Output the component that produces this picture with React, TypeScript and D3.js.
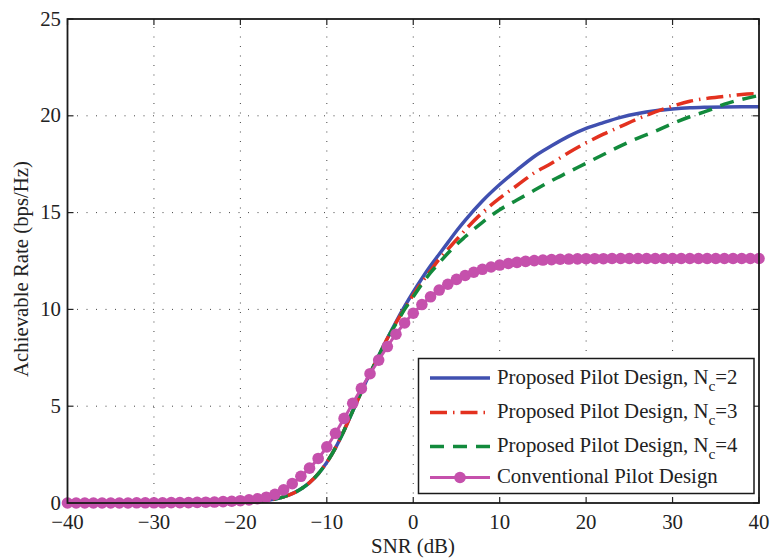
import React from "react";
import * as d3 from "d3";

const snrGrid = [-40, -30, -25, -20, -18, -16, -15, -14, -13, -12, -11, -10, -9, -8, -7, -6, -5, -4, -3, -2, -1, 0, 1, 2, 3, 4, 5, 6, 8, 10, 12, 14, 16, 18, 20, 22, 24, 26, 28, 30, 32, 34, 36, 38, 40];

const rateNc2 = [0, 0.003, 0.01, 0.03, 0.08, 0.2, 0.32, 0.48, 0.72, 1.05, 1.5, 2.1, 2.85, 3.75, 4.75, 5.75, 6.7, 7.6, 8.5, 9.35, 10.15, 10.9, 11.6, 12.25, 12.85, 13.45, 14.05, 14.6, 15.6, 16.45, 17.2, 17.9, 18.45, 18.95, 19.35, 19.65, 19.92, 20.12, 20.26, 20.35, 20.41, 20.44, 20.46, 20.47, 20.47];

const rateNc3 = [0, 0.003, 0.01, 0.03, 0.08, 0.2, 0.32, 0.48, 0.72, 1.05, 1.5, 2.1, 2.85, 3.75, 4.75, 5.75, 6.7, 7.6, 8.5, 9.3, 10.05, 10.75, 11.4, 12.0, 12.6, 13.1, 13.6, 14.1, 15.0, 15.75, 16.4, 17.05, 17.55, 18.1, 18.6, 19.05, 19.45, 19.85, 20.2, 20.5, 20.75, 20.9, 21.0, 21.1, 21.15];

const rateNc4 = [0, 0.003, 0.01, 0.03, 0.08, 0.2, 0.32, 0.48, 0.72, 1.05, 1.5, 2.1, 2.85, 3.75, 4.75, 5.75, 6.7, 7.6, 8.5, 9.25, 10.0, 10.65, 11.3, 11.9, 12.4, 12.9, 13.35, 13.75, 14.5, 15.15, 15.65, 16.15, 16.65, 17.1, 17.55, 18.0, 18.45, 18.85, 19.2, 19.6, 19.95, 20.25, 20.6, 20.85, 21.05];

const snrConv = d3.range(-40, 41, 1);
const rateConv = [
  0, 0, 0, 0, 0, 0, 0, 0, 0.01, 0.01, 0.01, 0.01, 0.02, 0.02, 0.02,
  0.03, 0.04, 0.05, 0.07, 0.09, 0.12, 0.16, 0.22, 0.3, 0.45, 0.68, 1.0, 1.38, 1.8, 2.3,
  2.9, 3.6, 4.37, 5.15, 5.92, 6.68, 7.38, 8.08, 8.72, 9.3, 9.8,
  10.25, 10.65, 11.0, 11.3, 11.55, 11.75, 11.92, 12.07, 12.19, 12.29, 12.37, 12.43, 12.48, 12.52, 12.55, 12.57, 12.59, 12.6, 12.61,
  12.62, 12.62, 12.62, 12.63, 12.63, 12.63, 12.63, 12.63, 12.63, 12.63, 12.63, 12.63, 12.63, 12.63, 12.63, 12.63, 12.63, 12.63, 12.63, 12.63, 12.63,
];

const xTicks = [-40, -30, -20, -10, 0, 10, 20, 30, 40];
const yTicks = [0, 5, 10, 15, 20, 25];

const legendLabels = ["Proposed Pilot Design, N", "Proposed Pilot Design, N", "Proposed Pilot Design, N", "Conventional Pilot Design"];
const legendSubs = ["c", "c", "c", ""];
const legendTails = ["=2", "=3", "=4", ""];

const W = 771, H = 559;
const L = 67.5, R = 759, T = 19, B = 503;
const FONT = "'Liberation Serif', 'Times New Roman', serif";
const FS = 20.8;

const BLUE = "#4050B0";
const RED = "#E3311F";
const GREEN = "#128A3C";
const MAG = "#C550AC";

export default function App() {
  const x = d3.scaleLinear().domain([-40, 40]).range([L, R]);
  const y = d3.scaleLinear().domain([0, 25]).range([B, T]);

  const mk = (ys: number[]) =>
    d3.line<number>().x((_, i) => x(snrGrid[i])).y((d) => y(d)).curve(d3.curveMonotoneX)(ys) || "";
  const convPath = d3.line<number>().x((_, i) => x(snrConv[i])).y((d) => y(d)).curve(d3.curveMonotoneX)(rateConv) || "";

  const series = [
    { d: mk(rateNc2), color: BLUE, dash: undefined as string | undefined, w: 3.5 },
    { d: mk(rateNc3), color: RED, dash: "17 6 1.5 6", w: 3.5 },
    { d: mk(rateNc4), color: GREEN, dash: "14 9", w: 3.5 },
  ];

  const legendRows = [378, 412.5, 446.5, 477.5];
  const legendStyles = [
    { color: BLUE, dash: undefined as string | undefined },
    { color: RED, dash: "17 6 1.5 6" },
    { color: GREEN, dash: "14 9" },
    { color: MAG, dash: undefined },
  ];

  return (
    <svg width={W} height={H} style={{ position: "absolute", left: 0, top: 0, background: "#fff" }} fontFamily={FONT}>
      <rect x={0} y={0} width={W} height={H} fill="#fff" />
      {/* grid */}
      <g stroke="#444" strokeWidth={1} strokeDasharray="1 8.5">
        {xTicks.slice(1, -1).map((t) => (
          <line key={"gx" + t} x1={x(t)} x2={x(t)} y1={B} y2={T} />
        ))}
        {yTicks.slice(1, -1).map((t) => (
          <line key={"gy" + t} x1={L} x2={R} y1={y(t)} y2={y(t)} />
        ))}
      </g>
      {/* ticks */}
      <g stroke="#222" strokeWidth={1.2}>
        {xTicks.map((t) => (
          <g key={"tx" + t}>
            <line x1={x(t)} x2={x(t)} y1={B} y2={B - 6} />
            <line x1={x(t)} x2={x(t)} y1={T} y2={T + 6} />
          </g>
        ))}
        {yTicks.map((t) => (
          <g key={"ty" + t}>
            <line x1={L} x2={L + 6} y1={y(t)} y2={y(t)} />
            <line x1={R} x2={R - 6} y1={y(t)} y2={y(t)} />
          </g>
        ))}
      </g>
      {/* curves */}
      {series.map((s, i) => (
        <path key={i} d={s.d} fill="none" stroke={s.color} strokeWidth={s.w} strokeDasharray={s.dash} />
      ))}
      <path d={convPath} fill="none" stroke={MAG} strokeWidth={3} />
      {snrConv.map((s, i) => (
        <circle key={"m" + i} cx={x(s)} cy={y(rateConv[i])} r={5.8} fill={MAG} />
      ))}
      {/* frame */}
      <rect x={L} y={T} width={R - L} height={B - T} fill="none" stroke="#1a1a1a" strokeWidth={1.8} />
      {/* tick labels */}
      <g fontSize={FS} fill="#222">
        {xTicks.map((t) => (
          <text key={"lx" + t} x={x(t)} y={529} textAnchor="middle">
            {t < 0 ? "\u2212" + Math.abs(t) : String(t)}
          </text>
        ))}
        {yTicks.map((t) => (
          <text key={"ly" + t} x={61} y={y(t) + 6.6} textAnchor="end">
            {t}
          </text>
        ))}
      </g>
      <text x={413} y={553} fontSize={FS} textAnchor="middle" fill="#222">SNR (dB)</text>
      <text transform="translate(28,269) rotate(-90)" fontSize={FS} textAnchor="middle" fill="#222">
        Achievable Rate (bps/Hz)
      </text>
      {/* legend */}
      <rect x={418.5} y={358.5} width={335.5} height={135} fill="#fff" stroke="#1a1a1a" strokeWidth={1.5} />
      {legendRows.map((ry, i) => (
        <g key={"lg" + i}>
          <line x1={430} x2={490} y1={ry} y2={ry} stroke={legendStyles[i].color} strokeWidth={i === 3 ? 3 : 3.5} strokeDasharray={legendStyles[i].dash} />
          {i === 3 && <circle cx={460} cy={ry} r={5.8} fill={MAG} />}
          <text x={497} y={ry + 5.5} fontSize={FS} fill="#222">
            {legendLabels[i]}
            {legendSubs[i] && (
              <tspan dy={7} fontSize={15.5}>{legendSubs[i]}</tspan>
            )}
            {legendTails[i] && <tspan dy={-7}>{legendTails[i]}</tspan>}
          </text>
        </g>
      ))}
    </svg>
  );
}
